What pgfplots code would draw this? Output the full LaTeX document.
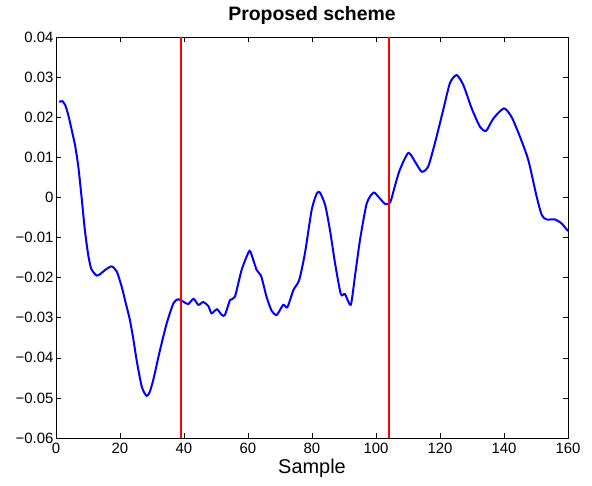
\documentclass[border=0pt]{standalone}
\usepackage{fontspec}
\setmainfont{Liberation Sans}
\usepackage{pgfplots}
\pgfplotsset{compat=1.18}
\begin{document}
\begin{tikzpicture}
\begin{axis}[
  scale only axis,
  width=512bp, height=401bp,
  xmin=0, xmax=160, ymin=-0.06, ymax=0.04,
  scaled y ticks=false,
  xtick={0,20,...,160},
  ytick={-0.06,-0.05,-0.04,-0.03,-0.02,-0.01,0,0.01,0.02,0.03,0.04},
  yticklabels={−0.06,−0.05,−0.04,−0.03,−0.02,−0.01,0,0.01,0.02,0.03,0.04},
  /pgf/number format/assume math mode=true,
  tick align=inside,
  major tick length=5bp,
  tick style={black, line width=0.6bp},
  axis line style={black, line width=0.8bp},
  ticklabel style={font=\fontsize{15}{16}\selectfont},
  xticklabel style={yshift=-2bp},
  yticklabel style={xshift=1bp},
  xlabel={Sample},
  xlabel style={font=\fontsize{20}{22}\selectfont, yshift=2bp},
  title={\textbf{Proposed scheme}},
  title style={font=\fontsize{19.5}{21}\selectfont, yshift=3bp},
  clip=true,
]
\addplot[blue, line width=2bp, smooth, tension=0.4] coordinates {
(1,0.0238) (2,0.0240) (3,0.0228) (4,0.0200) (5,0.0165) (6,0.0128) (7,0.0075)
(8,0.0000) (9,-0.0080) (10,-0.0140) (11,-0.0178) (12.7,-0.0195) (14,-0.0190)
(15.5,-0.0180) (17.4,-0.0172) (19,-0.0185) (20.5,-0.0222) (22,-0.0270)
(23.1,-0.0306) (24.2,-0.0355) (25.2,-0.0406) (26.8,-0.0472) (28.3,-0.0495)
(29.3,-0.0485) (30.4,-0.0455) (32.5,-0.0381) (34.6,-0.0314) (36.7,-0.0264)
(38.2,-0.0254) (39.8,-0.0260) (41.3,-0.0266) (43,-0.0253) (44.5,-0.0268)
(46,-0.0261) (47.6,-0.0271) (48.6,-0.0289) (50.3,-0.0279) (51.8,-0.0293)
(52.8,-0.0293) (54.4,-0.0256) (55.9,-0.0248) (58,-0.0181) (60.1,-0.0138)
(60.8,-0.0136) (62.7,-0.0181) (64.1,-0.0196) (65.8,-0.0248) (67.4,-0.0283)
(69,-0.0293) (71,-0.0268) (72.3,-0.0274) (74.2,-0.0231) (76,-0.0206)
(77.8,-0.0139) (79.9,-0.0031) (81.5,0.0010) (82.5,0.0012) (84.1,-0.0019)
(85.6,-0.0081) (87.2,-0.0164) (89,-0.0241) (90.3,-0.0241) (92.1,-0.0268)
(93.4,-0.0198) (95,-0.0106) (97.1,-0.0015) (99.2,0.0012) (100.7,0.0002)
(102.8,-0.0016) (104.4,-0.0013) (105.8,0.0025) (107.4,0.0068) (110.1,0.0111)
(112.2,0.0089) (114.3,0.0064) (116.3,0.0077) (118.4,0.0135) (121,0.0218)
(123.1,0.0285) (125.2,0.0305) (127.3,0.0280) (129.9,0.0222) (132.5,0.0176)
(134.4,0.0166) (136.7,0.0197) (140,0.0222) (142.4,0.0200) (145,0.0151)
(147.6,0.0093) (150.2,0.0002) (151.8,-0.0044) (153.3,-0.0055) (155.9,-0.0055)
(158,-0.0065) (160,-0.0084)
};
\addplot[red, line width=1.8bp] coordinates {(39,-0.06) (39,0.04)};
\addplot[red, line width=1.8bp] coordinates {(104,-0.06) (104,0.04)};
\end{axis}
\pgfresetboundingbox
\path[use as bounding box] (current axis.south west) ++(-56bp,-48bp) rectangle ++(592bp,486bp);
\end{tikzpicture}
\end{document}
